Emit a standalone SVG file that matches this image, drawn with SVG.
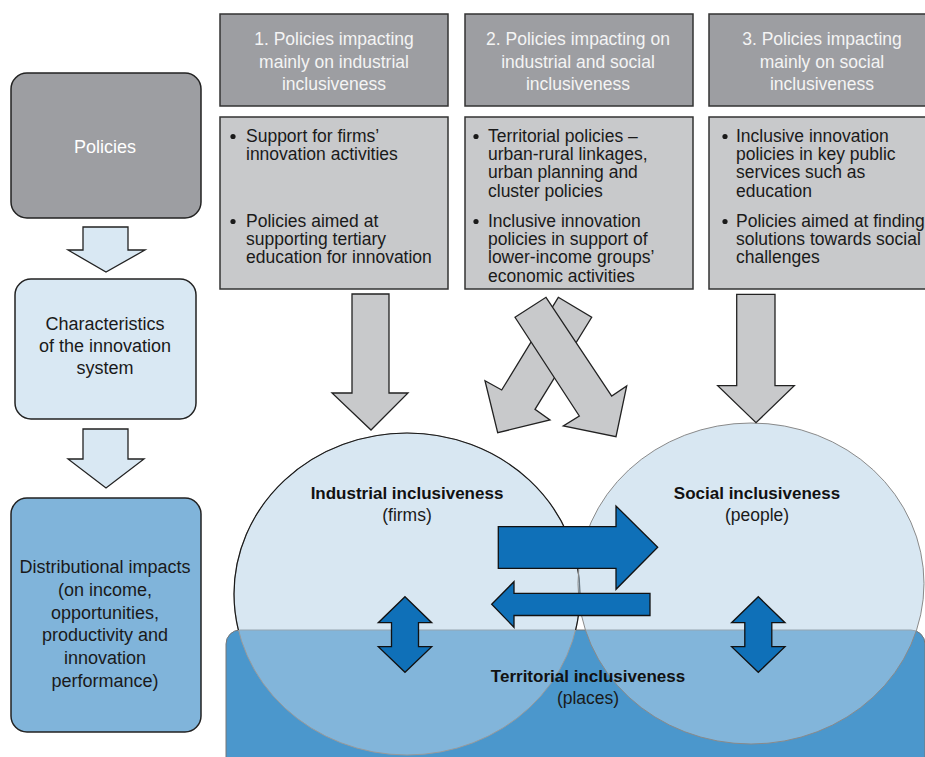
<svg xmlns="http://www.w3.org/2000/svg" width="925" height="757" viewBox="0 0 925 757">
<style>
text{font-family:"Liberation Sans",Arial,sans-serif}
.hdr{fill:#9d9ea2;stroke:#333;stroke-width:1.5}
.cnt{fill:#c8c9cb;stroke:#333;stroke-width:1.5}
.ht{fill:#f4f4f4;font-size:17.5px;text-anchor:middle}
.bt{fill:#1a1a1a;font-size:17.5px}
.lt{fill:#1a1a1a;font-size:18px;text-anchor:middle}
.bold{fill:#111;font-size:17px;font-weight:bold;text-anchor:middle}
.sub{fill:#1a1a1a;font-size:17.5px;text-anchor:middle}
.larr{fill:#d9e8f3;stroke:#222;stroke-width:1.3;stroke-linejoin:miter}
.garr{fill:#c8c9cb;stroke:#222;stroke-width:1.3}
.barr{fill:#0f70b8;stroke:#111;stroke-width:1.3}
.dot{fill:#1a1a1a}
</style>
<defs>
<clipPath id="above"><rect x="0" y="0" width="925" height="630"/></clipPath>
</defs>

<g id="policies">
<rect x="11" y="73" width="190" height="145" rx="16" fill="#9d9ea2" stroke="#222" stroke-width="1.5"/>
<text class="lt" x="105" y="153" fill="#ffffff" style="fill:#ffffff">Policies</text>
</g>
<g id="characteristics">
<rect x="15" y="279" width="181" height="140" rx="16" fill="#d9e8f3" stroke="#222" stroke-width="1.5"/>
<text class="lt" x="105" y="330">Characteristics<tspan x="105" dy="22">of the innovation</tspan><tspan x="105" dy="22">system</tspan></text>
</g>
<g id="distributional">
<rect x="11" y="498" width="190" height="234" rx="16" fill="#80b4da" stroke="#222" stroke-width="1.5"/>
<text class="lt" x="105" y="573">Distributional impacts<tspan x="105" dy="22.8">(on income,</tspan><tspan x="105" dy="22.8">opportunities,</tspan><tspan x="105" dy="22.8">productivity and</tspan><tspan x="105" dy="22.8">innovation</tspan><tspan x="105" dy="22.8">performance)</tspan></text>
</g>

<g id="header1">
<rect class="hdr" x="220" y="14" width="228" height="92"/>
<text class="ht" x="334" y="45">1. Policies impacting<tspan x="334" dy="22.5">mainly on industrial</tspan><tspan x="334" dy="22.5">inclusiveness</tspan></text>
</g>
<g id="header2">
<rect class="hdr" x="465" y="14" width="228" height="92"/>
<text class="ht" x="578" y="45">2. Policies impacting on<tspan x="578" dy="22.5">industrial and social</tspan><tspan x="578" dy="22.5">inclusiveness</tspan></text>
</g>
<g id="header3">
<rect class="hdr" x="709" y="14" width="228" height="92"/>
<text class="ht" x="822" y="45">3. Policies impacting<tspan x="822" dy="22.5">mainly on social</tspan><tspan x="822" dy="22.5">inclusiveness</tspan></text>
</g>

<g id="list1">
<rect class="cnt" x="220" y="117" width="228" height="172"/>
<circle class="dot" cx="233" cy="136.5" r="2.6"/>
<circle class="dot" cx="233" cy="221.5" r="2.6"/>
<text class="bt" x="246" y="141.7">Support for firms’<tspan x="246" dy="18.3">innovation activities</tspan></text>
<text class="bt" x="246" y="226.7">Policies aimed at<tspan x="246" dy="18.3">supporting tertiary</tspan><tspan x="246" dy="18.3">education for innovation</tspan></text>
</g>
<g id="list2">
<rect class="cnt" x="465" y="117" width="228" height="172"/>
<circle class="dot" cx="476" cy="136.5" r="2.6"/>
<circle class="dot" cx="476" cy="221.5" r="2.6"/>
<text class="bt" x="488" y="141.7">Territorial policies –<tspan x="488" dy="18.3">urban-rural linkages,</tspan><tspan x="488" dy="18.3">urban planning and</tspan><tspan x="488" dy="18.3">cluster policies</tspan></text>
<text class="bt" x="488" y="226.7">Inclusive innovation<tspan x="488" dy="18.3">policies in support of</tspan><tspan x="488" dy="18.3">lower-income groups’</tspan><tspan x="488" dy="18.3">economic activities</tspan></text>
</g>
<g id="list3">
<rect class="cnt" x="709" y="117" width="228" height="172"/>
<circle class="dot" cx="725" cy="136.5" r="2.6"/>
<circle class="dot" cx="725" cy="221.5" r="2.6"/>
<text class="bt" x="736" y="141.7">Inclusive innovation<tspan x="736" dy="18.3">policies in key public</tspan><tspan x="736" dy="18.3">services such as</tspan><tspan x="736" dy="18.3">education</tspan></text>
<text class="bt" x="736" y="226.7">Policies aimed at finding<tspan x="736" dy="18.3">solutions towards social</tspan><tspan x="736" dy="18.3">challenges</tspan></text>
</g>

<g id="territorial">
<rect x="226" y="630" width="699" height="150" rx="14" fill="#4b97cc" stroke="#777" stroke-width="1"/>
</g>
<g id="industrial">
<ellipse cx="407" cy="594" rx="173" ry="161" fill="rgb(180,209,230)" fill-opacity="0.52" stroke="#9a9a9a" stroke-width="1"/>
<ellipse cx="407" cy="594" rx="173" ry="161" fill="none" stroke="#1a1a1a" stroke-width="1.2" clip-path="url(#above)"/>
</g>
<g id="social">
<ellipse cx="751" cy="583.5" rx="173" ry="160.5" fill="rgb(180,209,230)" fill-opacity="0.52" stroke="#8a8a8a" stroke-width="1"/>
</g>

<g id="connectors">
<polygon class="larr" points="83,227 128,227 128,250 145,250 106,272 68,250 83,250"/>
<polygon class="larr" points="83,429 128,429 128,459 144,459 106,488 68,459 83,459"/>
<polygon class="garr" points="352,294 389,294 389,393 408,393 371,430 332,393 352,393"/>
<polygon class="garr" points="736.7,294.3 775,294.3 775,385.7 794.3,385.7 756,422.7 717.7,385.7 736.7,385.7"/>
<polygon class="garr" points="558.3,297.3 591.7,317.3 535,409.3 550,420 497.7,432.7 485,380.7 501.7,390"/>
<polygon class="garr" points="515,317.3 546,297.3 611.7,396 626.7,386 616,436.7 563.3,426 579.3,416"/>
<polygon class="barr" points="498.3,526.7 616,526.7 616,506 657.7,547.3 616,589.3 616,568.3 498.3,568.3"/>
<polygon class="barr" points="491.7,604.3 514,581.7 514,593.3 650,593.3 650,615.5 514,615.5 514,627.3"/>
<polygon class="barr" points="405,596.7 431.7,622.7 418.5,622.7 418.5,646.7 431.7,646.7 405,672.3 378.3,646.7 391.5,646.7 391.5,622.7 378.3,622.7"/>
<polygon class="barr" points="758.3,596.7 785,622.7 771.8,622.7 771.8,646.7 785,646.7 758.3,672.3 731.6,646.7 744.8,646.7 744.8,622.7 731.6,622.7"/>
</g>

<g id="labels">
<text class="bold" x="407" y="499">Industrial inclusiveness</text>
<text class="sub" x="407" y="521">(firms)</text>
<text class="bold" x="757" y="499">Social inclusiveness</text>
<text class="sub" x="757" y="521">(people)</text>
<text class="bold" x="588" y="682">Territorial inclusiveness</text>
<text class="sub" x="588" y="704">(places)</text>
</g>
</svg>
